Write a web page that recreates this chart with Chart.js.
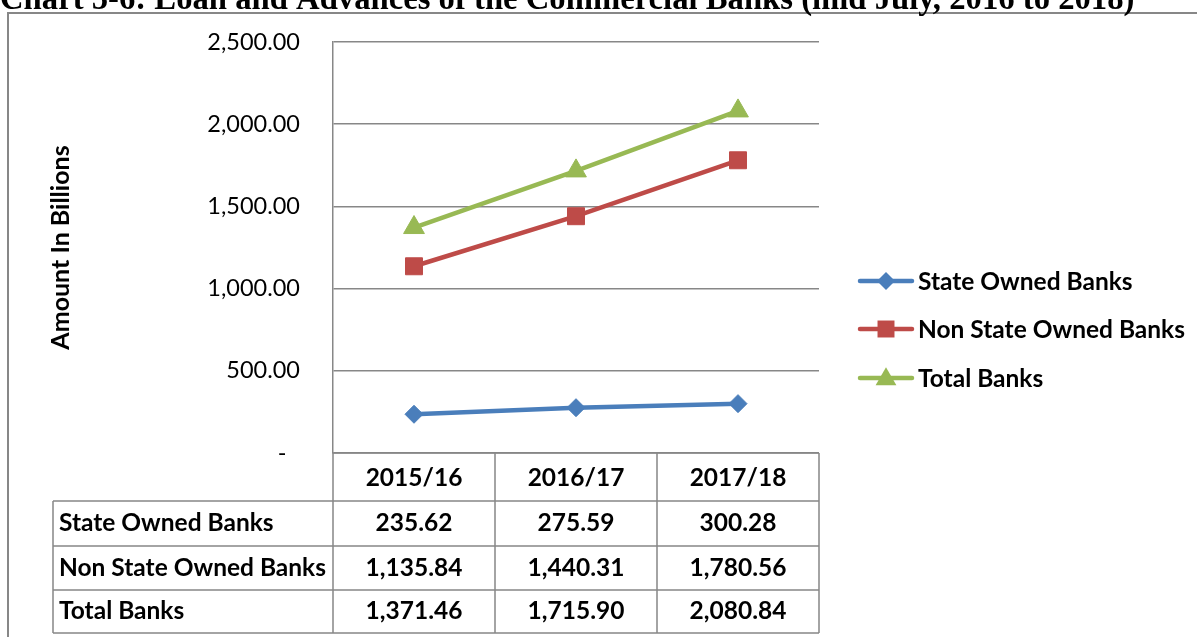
<!DOCTYPE html>
<html>
<head>
<meta charset="utf-8">
<script src="https://cdn.jsdelivr.net/npm/chart.js@4/dist/chart.umd.min.js"></script>
<style>
  html, body { margin: 0; padding: 0; background: #ffffff; }
  #wrap { width: 1197px; height: 637px; position: relative; overflow: hidden; }
</style>
</head>
<body>
<div id="wrap"><canvas id="c" width="1197" height="637"></canvas></div>
<script>
// ---- Data ----
const categories = ['2015/16', '2016/17', '2017/18'];
const seriesNames = ['State Owned Banks', 'Non State Owned Banks', 'Total Banks'];
const stateOwned = [235.62, 275.59, 300.28];
const nonStateOwned = [1135.84, 1440.31, 1780.56];
const totalBanks = [1371.46, 1715.90, 2080.84];
const yTicks = [0, 500, 1000, 1500, 2000, 2500];
const chartTitle = 'Chart 5-6: Loan and Advances of the Commercial Banks (mid July, 2016 to 2018)';
const yAxisTitle = 'Amount In Billions';

// ---- Styles ----
const FONT = 'Lato, "Open Sans", "DejaVu Sans", sans-serif';
const GRID = '#878787';
const colors = ['#4A7EBB', '#BE4B48', '#98B954'];
const pointStyles = ['rectRot', 'rect', 'triangle'];
const pointRadii = [9, 12, 12];

const fmt = v => v.toLocaleString('en-US', {minimumFractionDigits: 2, maximumFractionDigits: 2});

const seriesValues = [stateOwned, nonStateOwned, totalBanks];

const datasets = seriesNames.map((name, i) => ({
  label: name,
  data: seriesValues[i],
  borderColor: colors[i],
  backgroundColor: colors[i],
  pointBackgroundColor: colors[i],
  pointBorderColor: colors[i],
  pointStyle: pointStyles[i],
  pointRadius: pointRadii[i],
  pointHoverRadius: pointRadii[i],
  pointBorderWidth: 1,
  borderWidth: 4.5,
  tension: 0,
  fill: false,
  clip: false
}));

function drawMarker(ctx, style, x, y, r, color) {
  ctx.save();
  ctx.fillStyle = color;
  ctx.beginPath();
  if (style === 'rectRot') {
    ctx.moveTo(x - r, y); ctx.lineTo(x, y - r); ctx.lineTo(x + r, y); ctx.lineTo(x, y + r);
  } else if (style === 'rect') {
    const s = Math.SQRT1_2 * r;
    ctx.rect(x - s, y - s, 2 * s, 2 * s);
  } else {
    ctx.moveTo(x, y - r * 0.9);
    ctx.lineTo(x + r * 0.866, y + r * 0.6);
    ctx.lineTo(x - r * 0.866, y + r * 0.6);
  }
  ctx.closePath();
  ctx.fill();
  ctx.restore();
}

const extrasPlugin = {
  id: 'extras',
  beforeDraw(chart) {
    const ctx = chart.ctx;
    ctx.save();
    ctx.fillStyle = '#ffffff';
    ctx.fillRect(0, 0, chart.width, chart.height);
    // outer frame
    ctx.strokeStyle = GRID;
    ctx.lineWidth = 2;
    ctx.beginPath();
    ctx.moveTo(8, chart.height + 5);
    ctx.lineTo(8, 13);
    ctx.lineTo(chart.width + 5, 13);
    ctx.stroke();
    // clipped title
    ctx.fillStyle = '#000000';
    ctx.font = 'bold 32.7px "Liberation Serif", "Times New Roman", serif';
    ctx.textBaseline = 'alphabetic';
    ctx.textAlign = 'left';
    ctx.fillText(chartTitle, 0, 9);
    ctx.restore();
  },
  afterDraw(chart) {
    const ctx = chart.ctx;
    const xs = chart.scales.x;
    const area = chart.chartArea;
    const n = categories.length;
    const band = (area.right - area.left) / n;
    const labelLeft = 53;
    const rowTops = [area.bottom, 501, 546, 590, 633];
    ctx.save();
    ctx.strokeStyle = GRID;
    ctx.lineWidth = 1.5;
    ctx.beginPath();
    // horizontal lines
    ctx.moveTo(area.left, rowTops[0]); ctx.lineTo(area.right, rowTops[0]);
    for (let r = 1; r < rowTops.length; r++) {
      ctx.moveTo(labelLeft, rowTops[r]); ctx.lineTo(area.right, rowTops[r]);
    }
    // vertical lines
    ctx.moveTo(labelLeft, rowTops[1]); ctx.lineTo(labelLeft, rowTops[4]);
    for (let k = 0; k <= n; k++) {
      const x = area.left + k * band;
      ctx.moveTo(x, rowTops[0]); ctx.lineTo(x, rowTops[4]);
    }
    ctx.stroke();

    ctx.fillStyle = '#000000';
    ctx.font = 'bold 24.5px ' + FONT;
    ctx.textBaseline = 'middle';
    // header
    ctx.textAlign = 'center';
    categories.forEach((c, i) => {
      ctx.fillText(c, xs.getPixelForValue(i), (rowTops[0] + rowTops[1]) / 2 + 1);
    });
    // rows
    seriesNames.forEach((name, r) => {
      const yc = (rowTops[r + 1] + rowTops[r + 2]) / 2;
      ctx.textAlign = 'left';
      ctx.fillText(name, labelLeft + 6, yc);
      ctx.textAlign = 'center';
      seriesValues[r].forEach((v, i) => {
        ctx.fillText(fmt(v), xs.getPixelForValue(i), yc);
      });
    });

    // legend
    const legendY = [281, 329, 378];
    seriesNames.forEach((name, i) => {
      const y = legendY[i];
      ctx.strokeStyle = colors[i];
      ctx.lineWidth = 4.5;
      ctx.lineCap = 'round';
      ctx.beginPath();
      ctx.moveTo(860, y); ctx.lineTo(912, y);
      ctx.stroke();
      drawMarker(ctx, pointStyles[i], 886, y, pointRadii[i], colors[i]);
      ctx.fillStyle = '#000000';
      ctx.textAlign = 'left';
      ctx.fillText(name, 918, y + 1);
    });
    ctx.restore();
  }
};

new Chart(document.getElementById('c'), {
  type: 'line',
  data: { labels: categories, datasets },
  options: {
    responsive: false,
    animation: false,
    devicePixelRatio: 1,
    layout: { padding: { top: 42, right: 378, bottom: 0, left: 0 } },
    plugins: { legend: { display: false }, tooltip: { enabled: false }, title: { display: false } },
    scales: {
      x: {
        type: 'category',
        offset: true,
        ticks: { display: false },
        grid: { display: false, drawTicks: false },
        border: { display: false },
        afterFit: s => { s.height = 184; s.paddingLeft = 0; s.paddingRight = 0; }
      },
      y: {
        min: 0,
        max: 2500,
        afterBuildTicks: s => { s.ticks = yTicks.map(v => ({ value: v })); },
        ticks: {
          padding: 33,
          color: '#000000',
          font: { family: FONT, size: 23.5 },
          callback: v => (v === 0 ? '-\u2007' : fmt(v))
        },
        grid: { color: GRID, lineWidth: 1.5, drawTicks: false },
        border: { display: true, color: GRID, width: 1.5 },
        title: {
          display: true,
          text: yAxisTitle,
          color: '#000000',
          font: { family: FONT, size: 25, weight: 'bold' },
          padding: { top: 46, bottom: 0 }
        },
        afterFit: s => { s.width = 333; s.paddingTop = 0; s.paddingBottom = 0; }
      }
    }
  },
  plugins: [extrasPlugin]
});
</script>
</body>
</html>
